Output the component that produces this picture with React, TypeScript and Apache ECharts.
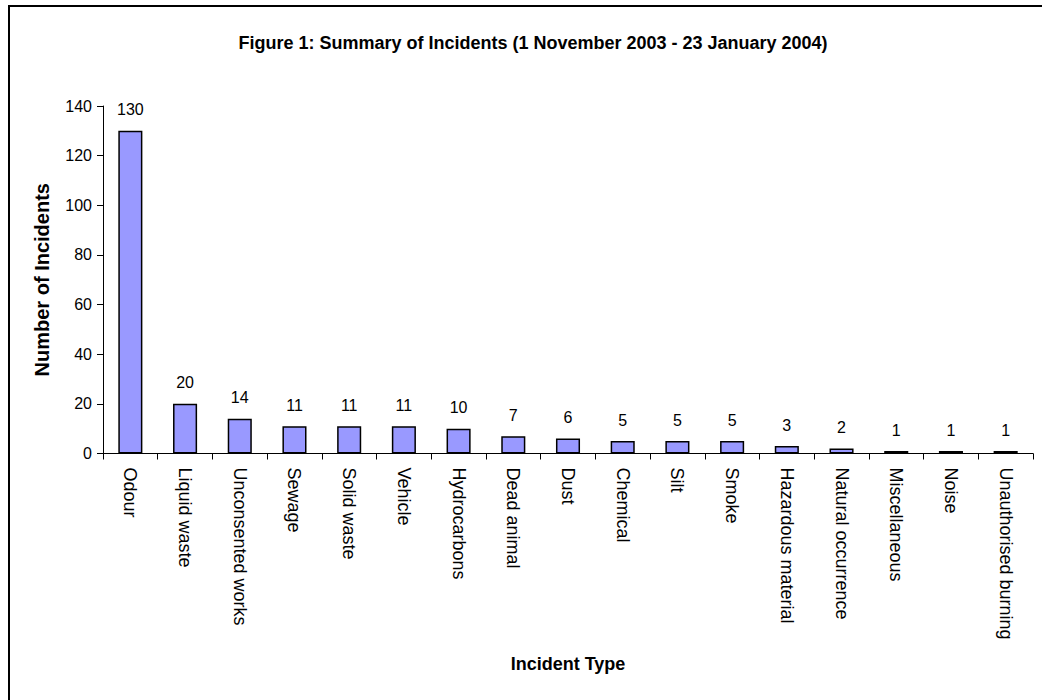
import React, { useEffect, useRef } from "react";
import * as echarts from "echarts";

const categories = [
  "Odour",
  "Liquid waste",
  "Unconsented works",
  "Sewage",
  "Solid waste",
  "Vehicle",
  "Hydrocarbons",
  "Dead animal",
  "Dust",
  "Chemical",
  "Silt",
  "Smoke",
  "Hazardous material",
  "Natural occurrence",
  "Miscellaneous",
  "Noise",
  "Unauthorised burning",
];
const incidents = [130, 20, 14, 11, 11, 11, 10, 7, 6, 5, 5, 5, 3, 2, 1, 1, 1];
const titleText = "Figure 1: Summary of Incidents (1 November 2003 - 23 January 2004)";
const yAxisTitle = "Number of Incidents";
const xAxisTitle = "Incident Type";

const FONT = "'Liberation Sans', Arial, sans-serif";

export default function App() {
  const ref = useRef<HTMLDivElement>(null);
  useEffect(() => {
    document.body.style.margin = "0";
    const chart = echarts.init(ref.current!, null, { renderer: "svg" });
    chart.setOption({
      animation: false,
      backgroundColor: "#ffffff",
      textStyle: { fontFamily: FONT },
      title: {
        text: titleText,
        left: 528,
        top: 29,
        textAlign: "center",
        textStyle: { fontFamily: FONT, fontSize: 18, fontWeight: "bold", color: "#000" },
      },
      graphic: [
        {
          type: "rect",
          shape: { x: 9, y: 6, width: 1100, height: 800 },
          style: { fill: "none", stroke: "#000", lineWidth: 2 },
          silent: true,
        },
      ],
      grid: { left: 103, right: 9, top: 106, bottom: 246.5, containLabel: false },
      xAxis: {
        type: "category",
        data: categories,
        boundaryGap: true,
        name: xAxisTitle,
        nameLocation: "middle",
        nameGap: 201,
        nameTextStyle: { fontFamily: FONT, fontSize: 18, fontWeight: "bold", color: "#000" },
        axisLine: { lineStyle: { color: "#000", width: 1 } },
        axisTick: { show: true, alignWithLabel: false, length: 6, lineStyle: { color: "#000" } },
        axisLabel: {
          rotate: -90,
          interval: 0,
          margin: 14,
          fontFamily: FONT,
          fontSize: 18,
          color: "#000",
        },
      },
      yAxis: {
        type: "value",
        min: 0,
        max: 140,
        interval: 20,
        name: yAxisTitle,
        nameLocation: "middle",
        nameRotate: 90,
        nameGap: 51,
        nameTextStyle: { fontFamily: FONT, fontSize: 20, fontWeight: "bold", color: "#000" },
        axisLine: { show: true, lineStyle: { color: "#000", width: 1 } },
        axisTick: { show: true, length: 6, lineStyle: { color: "#000" } },
        axisLabel: { margin: 11, fontFamily: FONT, fontSize: 16, color: "#000" },
        splitLine: { show: false },
      },
      series: [
        {
          type: "bar",
          data: incidents,
          barWidth: "44%",
          itemStyle: { color: "#9999FF", borderColor: "#000", borderWidth: 1.5 },
          label: {
            show: true,
            position: "top",
            distance: 13,
            fontFamily: FONT,
            fontSize: 16,
            color: "#000",
          },
        },
      ],
    });
    return () => chart.dispose();
  }, []);
  return <div ref={ref} style={{ width: 1042, height: 700 }} />;
}
